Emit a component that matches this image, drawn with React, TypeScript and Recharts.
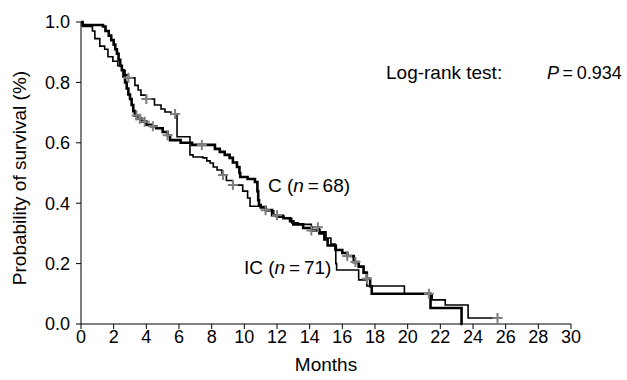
import React from 'react';
import { ComposedChart, Line, Scatter, XAxis, YAxis } from 'recharts';

// Kaplan-Meier steps: [month, survival]
const cSteps: [number, number][] = [
    [0, 1.0], [0.1, 0.99], [1.35, 0.985], [1.5, 0.97], [1.7, 0.955], [1.85, 0.94],
    [2.0, 0.925], [2.1, 0.91], [2.2, 0.895], [2.3, 0.875], [2.4, 0.855], [2.5, 0.84],
    [2.6, 0.82], [2.7, 0.8], [2.8, 0.78], [2.9, 0.76], [3.0, 0.745], [3.1, 0.725],
    [3.2, 0.705], [3.3, 0.69], [3.45, 0.68], [3.7, 0.67], [4.0, 0.66], [4.3, 0.655],
    [4.6, 0.648], [5.0, 0.636], [5.3, 0.625], [5.45, 0.609], [6.1, 0.6], [6.8, 0.593],
    [8.2, 0.58], [8.5, 0.57], [8.8, 0.56], [9.1, 0.55], [9.3, 0.535], [9.55, 0.52],
    [9.7, 0.5], [9.75, 0.487], [10.2, 0.48], [10.65, 0.47], [10.8, 0.44], [10.85, 0.41],
    [10.9, 0.394], [11.0, 0.387], [11.3, 0.377], [11.7, 0.36], [12.0, 0.355], [12.4, 0.35],
    [12.8, 0.34], [13.0, 0.33], [13.6, 0.318], [14.1, 0.31], [14.6, 0.3], [14.9, 0.28],
    [15.1, 0.26], [15.6, 0.245], [16.0, 0.235], [16.3, 0.225], [16.7, 0.205], [17.0, 0.19],
    [17.3, 0.17], [17.5, 0.15], [17.7, 0.125], [17.8, 0.1], [21.4, 0.053], [23.3, 0], [23.35, 0],
];

const icSteps: [number, number][] = [
    [0, 1.0], [0.1, 0.985], [0.7, 0.97], [0.85, 0.945], [1.15, 0.92], [1.45, 0.91],
    [1.65, 0.885], [1.95, 0.87], [2.25, 0.855], [2.5, 0.84], [2.7, 0.825], [2.9, 0.815],
    [3.3, 0.79], [3.5, 0.775], [3.67, 0.758], [4.0, 0.745], [4.5, 0.725], [4.9, 0.712],
    [5.14, 0.702], [5.5, 0.695], [5.88, 0.62], [6.67, 0.56], [6.86, 0.553], [7.47, 0.55],
    [7.7, 0.54], [7.9, 0.533], [8.1, 0.52], [8.33, 0.51], [8.63, 0.493], [8.9, 0.475],
    [9.3, 0.46], [9.9, 0.44], [10.2, 0.417], [10.35, 0.39], [11.0, 0.385], [11.3, 0.375],
    [11.8, 0.36], [12.4, 0.35], [12.9, 0.335], [13.3, 0.33], [14.1, 0.32], [14.6, 0.305],
    [15.0, 0.285], [15.3, 0.265], [15.55, 0.245], [15.6, 0.2], [15.65, 0.179], [17.0, 0.146],
    [17.5, 0.126], [19.8, 0.1], [21.5, 0.08], [22.3, 0.063], [23.7, 0.02], [25.5, 0.02],
];

// censored observations (+)
const cCensored: [number, number][] = [
    [3.4, 0.69], [3.6, 0.68], [3.9, 0.67], [4.4, 0.655], [5.3, 0.625], [7.4, 0.593],
    [11.3, 0.377], [14.1, 0.31], [16.3, 0.225], [16.8, 0.205], [17.5, 0.15],
];
const icCensored: [number, number][] = [
    [2.9, 0.815], [4.0, 0.745], [5.76, 0.695], [8.7, 0.493], [9.3, 0.46],
    [12.0, 0.36], [14.5, 0.32], [21.3, 0.1], [25.5, 0.02],
];

const xTicks = [0, 2, 4, 6, 8, 10, 12, 14, 16, 18, 20, 22, 24, 26, 28, 30];
const yTicks = [0, 0.2, 0.4, 0.6, 0.8, 1.0];

const toRows = (pts: [number, number][]) => pts.map(([m, p]) => ({ m, p }));

const FONT = '"Liberation Sans", Arial, sans-serif';

const Plus = (props: any) => {
    const { cx, cy } = props;
    if (cx == null || cy == null) return null;
    return (
        <path
            d={`M${cx - 5},${cy}h10M${cx},${cy - 5}v10`}
            stroke="#7f7f7f"
            strokeWidth={2}
            fill="none"
        />
    );
};

const note = (left: number, top: number, size = 19): React.CSSProperties => ({
    position: 'absolute',
    left,
    top,
    fontSize: size,
    whiteSpace: 'nowrap',
    lineHeight: '22px',
});

export default function App() {
    const axisTick = { fill: '#000', fontSize: 18, fontFamily: FONT };
    return (
        <div
            style={{
                position: 'absolute',
                left: 0,
                top: 0,
                width: 627,
                height: 380,
                background: '#fff',
                fontFamily: FONT,
                color: '#000',
            }}
        >
            <ComposedChart
                width={627}
                height={380}
                margin={{ top: 22, right: 56, bottom: 0, left: 0 }}
            >
                <XAxis
                    type="number"
                    dataKey="m"
                    domain={[0, 30]}
                    ticks={xTicks}
                    interval={0}
                    allowDataOverflow
                    height={56}
                    tickSize={5}
                    tickMargin={1}
                    stroke="#000"
                    tick={axisTick}
                />
                <YAxis
                    type="number"
                    domain={[0, 1]}
                    ticks={yTicks}
                    interval={0}
                    width={81}
                    tickSize={5}
                    tickMargin={6}
                    stroke="#000"
                    tick={axisTick}
                    tickFormatter={(v: number) => v.toFixed(1)}
                />
                <Line
                    data={toRows(icSteps)}
                    dataKey="p"
                    type="stepAfter"
                    stroke="#000"
                    strokeWidth={1.6}
                    dot={false}
                    isAnimationActive={false}
                />
                <Line
                    data={toRows(cSteps)}
                    dataKey="p"
                    type="stepAfter"
                    stroke="#000"
                    strokeWidth={2.6}
                    dot={false}
                    isAnimationActive={false}
                />
                <Scatter
                    data={toRows(cCensored)}
                    dataKey="p"
                    shape={<Plus />}
                    isAnimationActive={false}
                />
                <Scatter
                    data={toRows(icCensored)}
                    dataKey="p"
                    shape={<Plus />}
                    isAnimationActive={false}
                />
            </ComposedChart>

            <div style={note(386, 62)}>Log-rank test:</div>
            <div style={note(547, 62, 18)}>
                <i>P</i>&thinsp;=&thinsp;0.934
            </div>
            <div style={note(268, 175)}>
                C (<i>n</i>&thinsp;=&thinsp;68)
            </div>
            <div style={note(244, 257)}>
                IC (<i>n</i>&thinsp;=&thinsp;71)
            </div>
            <div style={{ ...note(326, 354), transform: 'translateX(-50%)' }}>Months</div>
            <div
                style={{
                    ...note(20, 178),
                    transform: 'translate(-50%, -50%) rotate(-90deg)',
                }}
            >
                Probability of survival (%)
            </div>
        </div>
    );
}
